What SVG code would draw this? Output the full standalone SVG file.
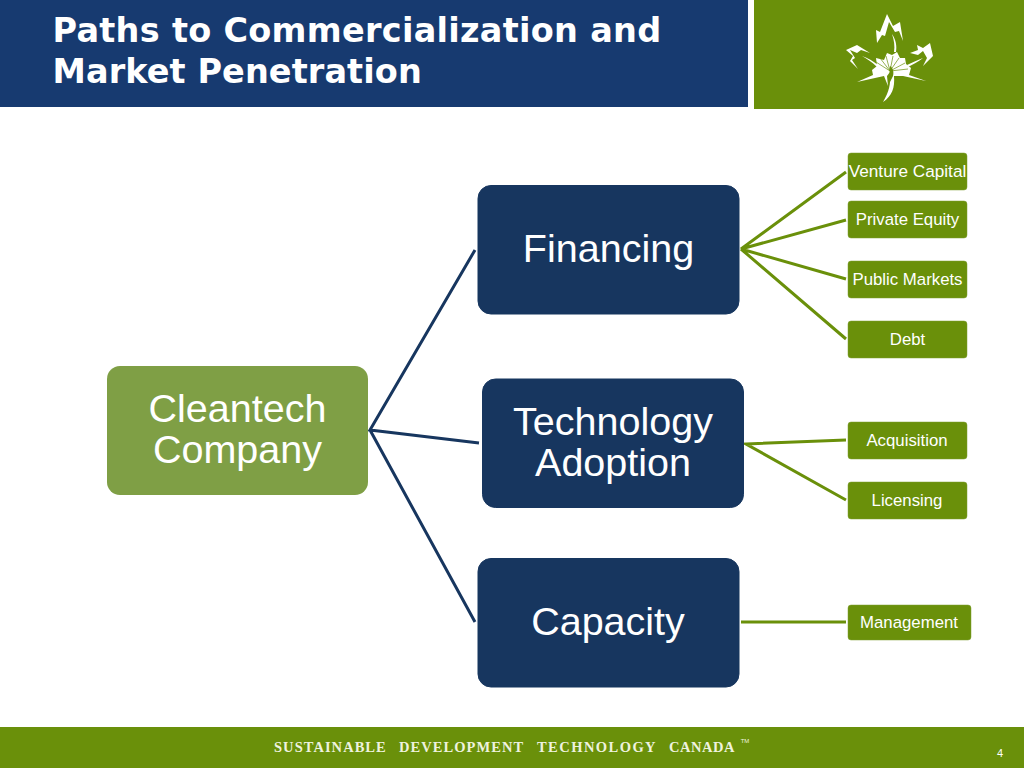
<svg xmlns="http://www.w3.org/2000/svg" width="1024" height="768" viewBox="0 0 1024 768">
<style>
text{font-family:"Liberation Sans",Arial,sans-serif;fill:#fff;text-anchor:middle}
.big{font-size:39.5px}
.small{font-size:16.8px}
.navy{fill:#17365f;stroke:#17365f}
.leaf{fill:#6a900a;stroke:#7f9c33;stroke-width:.5}
.gl{stroke:#6a900a;stroke-width:3;fill:none}
.bl{stroke:#17365f;stroke-width:3;fill:none}
.title{font-family:"DejaVu Sans",sans-serif;font-weight:bold;font-size:33.5px;text-anchor:start;letter-spacing:.28px}
</style>
<rect width="1024" height="768" fill="#fff"/>
<g id="header">
<rect x="0" y="0" width="748" height="107" fill="#173a70"/>
<rect x="754" y="0" width="270" height="109" fill="#6a900a"/>
<text class="title" x="52.500" y="42">Paths to Commercialization and</text>
<text class="title" x="52.500" y="83" style="letter-spacing:.1px">Market Penetration</text>
</g>
<g id="logo">
<g fill="#fff">
<path d="M877 43 L876 30 L880 32 L887 14 L893 26 L900 22 L903 41 L899 31 L895 32 L889 22 L885 36 L882 35 Z"/>
<path d="M846 50 L857 45 L870 53 L861 50 L857 53 L850 50 L855 58 L852 60 L858 69 L850 61 L853 56 Z"/>
<path d="M910 53 L918 50 L917 45 L923 48 L930 43 L933 56 L923 66 L927 58 L923 51 L918 55 Z"/>
<path d="M892 34 C896 40 897 46 896 52 L894 52 C895 46 894 40 892 34 Z"/>
<path d="M862 56 C868 58 873 61 878 65 L877 67 C872 62 867 59 862 56 Z"/>
<path d="M923 58 C917 60 912 63 907 65 L908 67 C913 64 918 62 923 58 Z"/>
<path d="M857 82 L873 75 L872 70 L877 66 L876 58 L884 60 L887 53 L892 55 L897 52 L900 58 L905 58 L906 64 L911 68 L909 75 L926 81 L903 76 L894 76 C895 88 892 96 883 102 C889 92 891 84 890 72 L887 76 L888 86 L884 76 Z"/>
</g>
<path d="M890 71 L876 62 M890 71 L880 58 M890 71 L886 56 M890 71 L893 56 M890 71 L899 58 M890 71 L905 63 M890 71 L908 69" stroke="#6a900a" stroke-width=".7" fill="none"/>
<path d="M890 66 C893 68 894 72 893 76 L890 82 C890 76 889 70 890 66 Z" fill="#6a900a"/>
</g>
<g id="connectors">
<path class="bl" d="M475 250 L370 430 L479 443 M370 430 L475 622"/>
<path class="gl" d="M846 172 L741 249 L846 220 M741 249 L846 279 M741 249 L846 339"/>
<path class="gl" d="M846 440 L746 444 L846 500"/>
<path class="gl" d="M741 622 L846 622"/>
</g>
<g id="cleantech"><rect x="107" y="366" width="261" height="129" rx="13" fill="#7f9f45"/><text class="big" x="237.500" y="422">Cleantech</text><text class="big" x="237.500" y="463">Company</text></g>
<g id="financing"><rect class="navy" x="478" y="185.500" width="261" height="128.500" rx="13"/><text class="big" x="608.500" y="262">Financing</text></g>
<g id="technology"><rect class="navy" x="482.500" y="379" width="261" height="128.500" rx="13"/><text class="big" x="613" y="435">Technology</text><text class="big" x="613" y="476">Adoption</text></g>
<g id="capacity"><rect class="navy" x="478" y="558.500" width="261" height="128.500" rx="13"/><text class="big" x="608" y="635">Capacity</text></g>
<g id="venture"><rect class="leaf" x="848" y="153" width="119" height="37" rx="3"/><text class="small" x="907.500" y="176.500" style="font-size:17.200px">Venture Capital</text></g>
<g id="private"><rect class="leaf" x="848" y="201" width="119" height="37" rx="3"/><text class="small" x="907.500" y="224.500">Private Equity</text></g>
<g id="public"><rect class="leaf" x="848" y="261" width="119" height="37" rx="3"/><text class="small" x="907.500" y="284.500">Public Markets</text></g>
<g id="debt"><rect class="leaf" x="848" y="321" width="119" height="37" rx="3"/><text class="small" x="907.500" y="344.500">Debt</text></g>
<g id="acquisition"><rect class="leaf" x="848" y="422" width="119" height="37" rx="3"/><text class="small" x="907" y="445.500">Acquisition</text></g>
<g id="licensing"><rect class="leaf" x="848" y="482" width="119" height="37" rx="3"/><text class="small" x="907" y="505.500">Licensing</text></g>
<g id="management"><rect class="leaf" x="848" y="605" width="123" height="35" rx="3"/><text class="small" x="909" y="628">Management</text></g>
<g id="footer">
<rect x="0" y="727" width="1024" height="41" fill="#6a900a"/>
<text x="274" y="752" style="font-family:'Liberation Serif',serif;font-size:14.500px;font-weight:bold;text-anchor:start;letter-spacing:1.05px;fill:#eef2df">SUSTAINABLE <tspan x="399">DEVELOPMENT</tspan> <tspan x="537" style="letter-spacing:1.45px">TECHNOLOGY</tspan> <tspan x="669" style="letter-spacing:.55px">CANADA</tspan></text>
<text x="745" y="743" style="font-size:6px;fill:#eef2df">TM</text>
<text x="1000" y="757" style="font-size:11px">4</text>
</g>
</svg>
